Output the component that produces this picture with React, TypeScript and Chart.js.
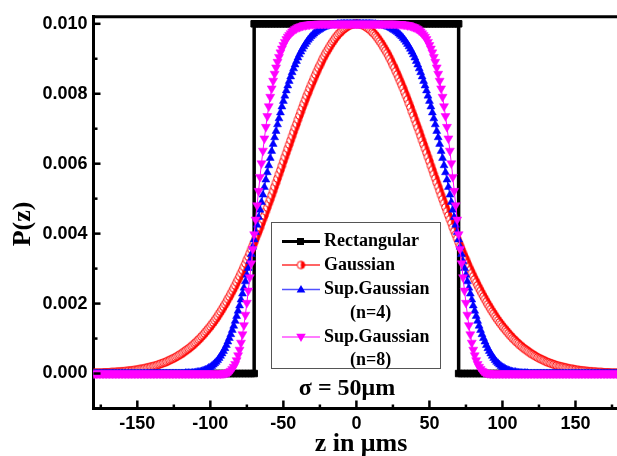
import { useEffect, useRef } from 'react';
import { Chart, registerables } from 'chart.js';

Chart.register(...registerables);

// sampling grids of z (μm)
const zGrid: number[] = Array.from({ length: 361 }, (_, i) => -180 + i);
const zGridRect: number[] = Array.from({ length: 181 }, (_, i) => -180 + 2 * i);
const MILLI = 1e-3; // series below are in units of 1e-3

const X_TICKS = [-150, -100, -50, 0, 50, 100, 150];
const X_MINOR = [-175, -125, -75, -25, 25, 75, 125, 175];
const Y_TICKS = [0, 0.002, 0.004, 0.006, 0.008, 0.01];
const Y_MINOR = [0.001, 0.003, 0.005, 0.007, 0.009];

// on zGridRect
const rectangular = [
  0, 0, 0, 0, 0, 0, 0, 0, 0, 0,
  0, 0, 0, 0, 0, 0, 0, 0, 0, 0,
  0, 0, 0, 0, 0, 0, 0, 0, 0, 0,
  0, 0, 0, 0, 0, 0, 0, 0, 0, 0,
  0, 0, 0, 0, 0, 0, 0, 0, 0, 0,
  0, 0, 0, 0, 0, 10, 10, 10, 10, 10,
  10, 10, 10, 10, 10, 10, 10, 10, 10, 10,
  10, 10, 10, 10, 10, 10, 10, 10, 10, 10,
  10, 10, 10, 10, 10, 10, 10, 10, 10, 10,
  10, 10, 10, 10, 10, 10, 10, 10, 10, 10,
  10, 10, 10, 10, 10, 10, 10, 10, 10, 10,
  10, 10, 10, 10, 10, 10, 10, 10, 10, 10,
  10, 10, 10, 10, 10, 10, 0, 0, 0, 0,
  0, 0, 0, 0, 0, 0, 0, 0, 0, 0,
  0, 0, 0, 0, 0, 0, 0, 0, 0, 0,
  0, 0, 0, 0, 0, 0, 0, 0, 0, 0,
  0, 0, 0, 0, 0, 0, 0, 0, 0, 0,
  0, 0, 0, 0, 0, 0, 0, 0, 0, 0,
  0,
];

// on zGrid (-180 … 180, step 1)
const gaussian = [
  0.02, 0.02, 0.02, 0.02, 0.02, 0.02, 0.02, 0.03, 0.03, 0.03,
  0.03, 0.03, 0.04, 0.04, 0.04, 0.04, 0.05, 0.05, 0.05, 0.06,
  0.06, 0.06, 0.07, 0.07, 0.08, 0.08, 0.09, 0.09, 0.10, 0.10,
  0.11, 0.12, 0.13, 0.13, 0.14, 0.15, 0.16, 0.17, 0.18, 0.19,
  0.20, 0.21, 0.22, 0.23, 0.25, 0.26, 0.28, 0.29, 0.31, 0.32,
  0.34, 0.36, 0.38, 0.40, 0.42, 0.44, 0.46, 0.49, 0.51, 0.54,
  0.56, 0.59, 0.62, 0.65, 0.68, 0.71, 0.74, 0.78, 0.81, 0.85,
  0.89, 0.93, 0.97, 1.01, 1.06, 1.10, 1.15, 1.20, 1.25, 1.30,
  1.35, 1.41, 1.46, 1.52, 1.58, 1.64, 1.71, 1.77, 1.84, 1.91,
  1.98, 2.05, 2.13, 2.20, 2.28, 2.36, 2.44, 2.52, 2.61, 2.69,
  2.78, 2.87, 2.96, 3.05, 3.15, 3.25, 3.34, 3.44, 3.55, 3.65,
  3.75, 3.86, 3.97, 4.07, 4.18, 4.30, 4.41, 4.52, 4.64, 4.75,
  4.87, 4.98, 5.10, 5.22, 5.34, 5.46, 5.58, 5.70, 5.82, 5.94,
  6.07, 6.19, 6.31, 6.43, 6.55, 6.67, 6.79, 6.91, 7.03, 7.14,
  7.26, 7.38, 7.49, 7.61, 7.72, 7.83, 7.94, 8.04, 8.15, 8.25,
  8.35, 8.45, 8.55, 8.64, 8.74, 8.82, 8.91, 9.00, 9.08, 9.16,
  9.23, 9.30, 9.37, 9.44, 9.50, 9.56, 9.62, 9.67, 9.72, 9.76,
  9.80, 9.84, 9.87, 9.90, 9.93, 9.95, 9.97, 9.98, 9.99, 10,
  10,
  10, 9.99, 9.98, 9.97, 9.95, 9.93, 9.90, 9.87, 9.84, 9.80,
  9.76, 9.72, 9.67, 9.62, 9.56, 9.50, 9.44, 9.37, 9.30, 9.23,
  9.16, 9.08, 9.00, 8.91, 8.82, 8.74, 8.64, 8.55, 8.45, 8.35,
  8.25, 8.15, 8.04, 7.94, 7.83, 7.72, 7.61, 7.49, 7.38, 7.26,
  7.14, 7.03, 6.91, 6.79, 6.67, 6.55, 6.43, 6.31, 6.19, 6.07,
  5.94, 5.82, 5.70, 5.58, 5.46, 5.34, 5.22, 5.10, 4.98, 4.87,
  4.75, 4.64, 4.52, 4.41, 4.30, 4.18, 4.07, 3.97, 3.86, 3.75,
  3.65, 3.55, 3.44, 3.34, 3.25, 3.15, 3.05, 2.96, 2.87, 2.78,
  2.69, 2.61, 2.52, 2.44, 2.36, 2.28, 2.20, 2.13, 2.05, 1.98,
  1.91, 1.84, 1.77, 1.71, 1.64, 1.58, 1.52, 1.46, 1.41, 1.35,
  1.30, 1.25, 1.20, 1.15, 1.10, 1.06, 1.01, 0.97, 0.93, 0.89,
  0.85, 0.81, 0.78, 0.74, 0.71, 0.68, 0.65, 0.62, 0.59, 0.56,
  0.54, 0.51, 0.49, 0.46, 0.44, 0.42, 0.40, 0.38, 0.36, 0.34,
  0.32, 0.31, 0.29, 0.28, 0.26, 0.25, 0.23, 0.22, 0.21, 0.20,
  0.19, 0.18, 0.17, 0.16, 0.15, 0.14, 0.13, 0.13, 0.12, 0.11,
  0.10, 0.10, 0.09, 0.09, 0.08, 0.08, 0.07, 0.07, 0.06, 0.06,
  0.06, 0.05, 0.05, 0.05, 0.04, 0.04, 0.04, 0.04, 0.03, 0.03,
  0.03, 0.03, 0.03, 0.02, 0.02, 0.02, 0.02, 0.02, 0.02, 0.02,
];

const superGauss4 = [
  0, 0, 0, 0, 0, 0, 0, 0, 0, 0,
  0, 0, 0, 0, 0, 0, 0, 0, 0, 0,
  0, 0, 0, 0, 0, 0, 0, 0, 0, 0,
  0, 0, 0, 0, 0, 0, 0, 0, 0, 0,
  0, 0, 0, 0, 0, 0, 0, 0, 0, 0,
  0, 0, 0, 0, 0, 0, 0, 0, 0, 0,
  0, 0, 0, 0.01, 0.01, 0.01, 0.01, 0.01, 0.02, 0.02,
  0.03, 0.04, 0.04, 0.05, 0.06, 0.08, 0.09, 0.11, 0.13, 0.16,
  0.18, 0.21, 0.25, 0.29, 0.33, 0.38, 0.44, 0.50, 0.57, 0.64,
  0.72, 0.81, 0.91, 1.01, 1.12, 1.24, 1.36, 1.50, 1.64, 1.79,
  1.94, 2.11, 2.28, 2.45, 2.63, 2.82, 3.01, 3.21, 3.41, 3.62,
  3.83, 4.04, 4.25, 4.47, 4.68, 4.90, 5.11, 5.33, 5.54, 5.75,
  5.95, 6.16, 6.36, 6.56, 6.75, 6.93, 7.12, 7.29, 7.46, 7.63,
  7.79, 7.94, 8.09, 8.23, 8.36, 8.49, 8.61, 8.72, 8.83, 8.93,
  9.03, 9.12, 9.20, 9.28, 9.35, 9.42, 9.48, 9.54, 9.59, 9.64,
  9.68, 9.72, 9.76, 9.79, 9.82, 9.84, 9.87, 9.89, 9.91, 9.92,
  9.94, 9.95, 9.96, 9.97, 9.97, 9.98, 9.98, 9.99, 9.99, 9.99,
  10, 10, 10, 10, 10, 10, 10, 10, 10, 10,
  10,
  10, 10, 10, 10, 10, 10, 10, 10, 10, 10,
  9.99, 9.99, 9.99, 9.98, 9.98, 9.97, 9.97, 9.96, 9.95, 9.94,
  9.92, 9.91, 9.89, 9.87, 9.84, 9.82, 9.79, 9.76, 9.72, 9.68,
  9.64, 9.59, 9.54, 9.48, 9.42, 9.35, 9.28, 9.20, 9.12, 9.03,
  8.93, 8.83, 8.72, 8.61, 8.49, 8.36, 8.23, 8.09, 7.94, 7.79,
  7.63, 7.46, 7.29, 7.12, 6.93, 6.75, 6.56, 6.36, 6.16, 5.95,
  5.75, 5.54, 5.33, 5.11, 4.90, 4.68, 4.47, 4.25, 4.04, 3.83,
  3.62, 3.41, 3.21, 3.01, 2.82, 2.63, 2.45, 2.28, 2.11, 1.94,
  1.79, 1.64, 1.50, 1.36, 1.24, 1.12, 1.01, 0.91, 0.81, 0.72,
  0.64, 0.57, 0.50, 0.44, 0.38, 0.33, 0.29, 0.25, 0.21, 0.18,
  0.16, 0.13, 0.11, 0.09, 0.08, 0.06, 0.05, 0.04, 0.04, 0.03,
  0.02, 0.02, 0.01, 0.01, 0.01, 0.01, 0.01, 0, 0, 0,
  0, 0, 0, 0, 0, 0, 0, 0, 0, 0,
  0, 0, 0, 0, 0, 0, 0, 0, 0, 0,
  0, 0, 0, 0, 0, 0, 0, 0, 0, 0,
  0, 0, 0, 0, 0, 0, 0, 0, 0, 0,
  0, 0, 0, 0, 0, 0, 0, 0, 0, 0,
  0, 0, 0, 0, 0, 0, 0, 0, 0, 0,
];

const superGauss8 = [
  0, 0, 0, 0, 0, 0, 0, 0, 0, 0,
  0, 0, 0, 0, 0, 0, 0, 0, 0, 0,
  0, 0, 0, 0, 0, 0, 0, 0, 0, 0,
  0, 0, 0, 0, 0, 0, 0, 0, 0, 0,
  0, 0, 0, 0, 0, 0, 0, 0, 0, 0,
  0, 0, 0, 0, 0, 0, 0, 0, 0, 0,
  0, 0, 0, 0, 0, 0, 0, 0, 0, 0,
  0, 0, 0, 0, 0, 0, 0, 0, 0, 0,
  0, 0, 0, 0, 0, 0, 0, 0, 0, 0.01,
  0.01, 0.02, 0.03, 0.05, 0.08, 0.13, 0.19, 0.27, 0.38, 0.52,
  0.68, 0.88, 1.12, 1.38, 1.68, 2.02, 2.37, 2.75, 3.15, 3.56,
  3.98, 4.40, 4.81, 5.22, 5.62, 6.01, 6.37, 6.72, 7.05, 7.36,
  7.64, 7.91, 8.15, 8.37, 8.57, 8.75, 8.91, 9.05, 9.18, 9.29,
  9.39, 9.48, 9.56, 9.63, 9.68, 9.73, 9.78, 9.81, 9.85, 9.87,
  9.90, 9.91, 9.93, 9.94, 9.96, 9.96, 9.97, 9.98, 9.98, 9.99,
  9.99, 9.99, 9.99, 10, 10, 10, 10, 10, 10, 10,
  10, 10, 10, 10, 10, 10, 10, 10, 10, 10,
  10, 10, 10, 10, 10, 10, 10, 10, 10, 10,
  10,
  10, 10, 10, 10, 10, 10, 10, 10, 10, 10,
  10, 10, 10, 10, 10, 10, 10, 10, 10, 10,
  10, 10, 10, 10, 10, 10, 10, 9.99, 9.99, 9.99,
  9.99, 9.98, 9.98, 9.97, 9.96, 9.96, 9.94, 9.93, 9.91, 9.90,
  9.87, 9.85, 9.81, 9.78, 9.73, 9.68, 9.63, 9.56, 9.48, 9.39,
  9.29, 9.18, 9.05, 8.91, 8.75, 8.57, 8.37, 8.15, 7.91, 7.64,
  7.36, 7.05, 6.72, 6.37, 6.01, 5.62, 5.22, 4.81, 4.40, 3.98,
  3.56, 3.15, 2.75, 2.37, 2.02, 1.68, 1.38, 1.12, 0.88, 0.68,
  0.52, 0.38, 0.27, 0.19, 0.13, 0.08, 0.05, 0.03, 0.02, 0.01,
  0.01, 0, 0, 0, 0, 0, 0, 0, 0, 0,
  0, 0, 0, 0, 0, 0, 0, 0, 0, 0,
  0, 0, 0, 0, 0, 0, 0, 0, 0, 0,
  0, 0, 0, 0, 0, 0, 0, 0, 0, 0,
  0, 0, 0, 0, 0, 0, 0, 0, 0, 0,
  0, 0, 0, 0, 0, 0, 0, 0, 0, 0,
  0, 0, 0, 0, 0, 0, 0, 0, 0, 0,
  0, 0, 0, 0, 0, 0, 0, 0, 0, 0,
  0, 0, 0, 0, 0, 0, 0, 0, 0, 0,
];

const SERIES_NAMES = ['Rectangular', 'Gaussian', 'Sup.Gaussian', 'Sup.Gaussian'];
const SERIES_NOTES = ['', '', '(n=4)', '(n=8)'];
const SIGMA_LABEL = 'σ = 50μm';
const X_TITLE = 'z in μms';
const Y_TITLE = 'P(z)';

const RED = '#ff0000';
const BLUE = '#0000ff';
const MAGENTA = '#ff00ff';
const LEGEND_LINE = ['#000000', '#ff3030', '#5050ff', '#ff50ff'];

const SERIF = "'Liberation Serif', 'Times New Roman', serif";
const SANS = "'Liberation Sans', Arial, sans-serif";

function toPoints(values: number[]) {
  return zGrid.map((z, i) => ({ x: z, y: values[i] * MILLI }));
}

function rectPoints() {
  const pts: { x: number; y: number }[] = [];
  zGridRect.forEach((z, i) => {
    if (i > 0 && rectangular[i] !== rectangular[i - 1]) {
      if (rectangular[i] > rectangular[i - 1]) pts.push({ x: z, y: rectangular[i - 1] * MILLI });
      else pts.push({ x: zGridRect[i - 1], y: rectangular[i] * MILLI });
    }
    pts.push({ x: z, y: rectangular[i] * MILLI });
  });
  return pts;
}

function halfCircle(color: string, r: number) {
  const size = Math.ceil(r * 2 + 3);
  const c = document.createElement('canvas');
  c.width = size;
  c.height = size;
  const g = c.getContext('2d')!;
  const m = size / 2;
  g.beginPath();
  g.arc(m, m, r, Math.PI / 2, (3 * Math.PI) / 2);
  g.closePath();
  g.fillStyle = '#ffffff';
  g.fill();
  g.beginPath();
  g.arc(m, m, r, -Math.PI / 2, Math.PI / 2);
  g.closePath();
  g.fillStyle = color;
  g.fill();
  g.beginPath();
  g.arc(m, m, r, 0, Math.PI * 2);
  g.strokeStyle = color;
  g.lineWidth = 1;
  g.stroke();
  return c;
}

function triangle(ctx: CanvasRenderingContext2D, x: number, y: number, r: number, down: boolean, color: string) {
  const s = down ? -1 : 1;
  ctx.beginPath();
  ctx.moveTo(x, y - s * r);
  ctx.lineTo(x + r * 0.866, y + s * r * 0.5);
  ctx.lineTo(x - r * 0.866, y + s * r * 0.5);
  ctx.closePath();
  ctx.fillStyle = color;
  ctx.fill();
}

export default function App() {
  const ref = useRef<HTMLCanvasElement>(null);

  useEffect(() => {
    const half = halfCircle(RED, 3.8);

    const decor = {
      id: 'decor',
      afterDatasetsDraw(chart: any) {
        const { ctx, chartArea: a, scales } = chart;
        const x = scales.x;
        const y = scales.y;
        ctx.save();
        ctx.strokeStyle = '#000';
        ctx.lineWidth = 3;
        ctx.beginPath();
        ctx.moveTo(a.left - 1.5, a.top);
        ctx.lineTo(a.right, a.top);
        ctx.stroke();
        ctx.lineWidth = 2.5;
        const seg = (x1: number, y1: number, x2: number, y2: number) => {
          ctx.beginPath();
          ctx.moveTo(x1, y1);
          ctx.lineTo(x2, y2);
          ctx.stroke();
        };
        X_TICKS.forEach((v) => { const p = x.getPixelForValue(v); seg(p, a.bottom, p, a.bottom - 8); });
        X_MINOR.forEach((v) => { const p = x.getPixelForValue(v); seg(p, a.bottom, p, a.bottom - 4); });
        Y_TICKS.forEach((v) => { const p = y.getPixelForValue(v); seg(a.left, p, a.left + 7, p); });
        Y_MINOR.forEach((v) => { const p = y.getPixelForValue(v); seg(a.left, p, a.left + 4, p); });

        ctx.fillStyle = '#000';
        ctx.font = `bold 26px ${SERIF}`;
        ctx.textAlign = 'center';
        ctx.textBaseline = 'alphabetic';
        ctx.fillText(X_TITLE, 361, 451);
        ctx.save();
        ctx.translate(30, 224);
        ctx.rotate(-Math.PI / 2);
        ctx.fillText(Y_TITLE, 0, 0);
        ctx.restore();
        ctx.font = `bold 24px ${SERIF}`;
        ctx.fillText(SIGMA_LABEL, 347, 395);

        const L = { x: 271.5, y: 222.5, w: 169, h: 146 };
        ctx.fillStyle = '#fff';
        ctx.fillRect(L.x, L.y, L.w, L.h);
        ctx.strokeStyle = '#555';
        ctx.lineWidth = 1;
        ctx.strokeRect(L.x, L.y, L.w, L.h);
        const rows = [
          { ds: 0, y: 241.5 },
          { ds: 1, y: 265 },
          { ds: 2, y: 289.5 },
          { ds: 3, y: 337 },
        ];
        const notes = [
          { ds: 2, y: 313 },
          { ds: 3, y: 360 },
        ];
        ctx.font = `bold 18px ${SERIF}`;
        ctx.textAlign = 'left';
        ctx.textBaseline = 'middle';
        rows.forEach((r) => {
          ctx.strokeStyle = LEGEND_LINE[r.ds];
          ctx.lineWidth = r.ds === 0 ? 3 : 1.3;
          seg(282, r.y, 320, r.y);
          if (r.ds === 0) {
            ctx.fillStyle = '#000';
            ctx.fillRect(297, r.y - 3.5, 7, 7);
          } else if (r.ds === 1) {
            ctx.drawImage(half, 301 - half.width / 2, r.y - half.height / 2);
          } else if (r.ds === 2) {
            triangle(ctx, 301, r.y + 0.5, 5, false, BLUE);
          } else {
            triangle(ctx, 301, r.y - 0.5, 5.5, true, MAGENTA);
          }
          ctx.fillStyle = '#000';
          ctx.fillText(SERIES_NAMES[r.ds], 324, r.y);
        });
        notes.forEach((n) => {
          ctx.fillStyle = '#000';
          ctx.fillText(SERIES_NOTES[n.ds], 350, n.y);
        });
        ctx.restore();
      },
    };

    const chart = new Chart(ref.current!, {
      type: 'line',
      data: {
        datasets: [
          {
            label: SERIES_NAMES[0],
            data: rectPoints(),
            borderColor: '#000',
            backgroundColor: '#000',
            borderWidth: 3.5,
            pointStyle: 'rect',
            pointRadius: 4.6,
            pointBorderWidth: 1,
            pointBorderColor: '#000',
            pointBackgroundColor: '#000',
            order: 3,
          },
          {
            label: SERIES_NAMES[1],
            data: toPoints(gaussian),
            borderColor: RED,
            backgroundColor: RED,
            borderWidth: 1.2,
            pointStyle: half,
            pointRadius: 4,
            order: 2,
          },
          {
            label: SERIES_NAMES[2] + ' ' + SERIES_NOTES[2],
            data: toPoints(superGauss4),
            borderColor: BLUE,
            backgroundColor: BLUE,
            borderWidth: 1,
            pointStyle: 'triangle',
            pointRadius: 4.6,
            pointBorderWidth: 0.5,
            pointBorderColor: BLUE,
            pointBackgroundColor: BLUE,
            order: 1,
          },
          {
            label: SERIES_NAMES[3] + ' ' + SERIES_NOTES[3],
            data: toPoints(superGauss8),
            borderColor: MAGENTA,
            backgroundColor: MAGENTA,
            borderWidth: 1,
            pointStyle: 'triangle',
            pointRotation: 180,
            pointRadius: 5.2,
            pointBorderWidth: 0.5,
            pointBorderColor: MAGENTA,
            pointBackgroundColor: MAGENTA,
            order: 0,
          },
        ] as any,
      },
      options: {
        animation: false,
        responsive: false,
        devicePixelRatio: 1,
        layout: { padding: { top: 14.5, right: 4, left: 0, bottom: 0 } },
        plugins: { legend: { display: false }, tooltip: { enabled: false } },
        elements: { line: { tension: 0 } },
        scales: {
          x: {
            type: 'linear',
            min: -180,
            max: 180,
            grid: { display: false, drawTicks: false },
            border: { display: true, width: 3, color: '#000' },
            ticks: {
              color: '#000',
              padding: 5,
              font: { family: SANS, size: 18, weight: 'bold' },
            },
            afterBuildTicks: (s: any) => { s.ticks = X_TICKS.map((v) => ({ value: v })); },
            afterFit: (s: any) => { s.height = 47.5; },
          },
          y: {
            type: 'linear',
            min: -0.001,
            max: 0.0102,
            grid: { display: false, drawTicks: false },
            border: { display: true, width: 3, color: '#000' },
            ticks: {
              color: '#000',
              padding: 6,
              font: { family: SANS, size: 18, weight: 'bold' },
              callback: (v: any) => Number(v).toFixed(3),
            },
            afterBuildTicks: (s: any) => { s.ticks = Y_TICKS.map((v) => ({ value: v })); },
            afterFit: (s: any) => { s.width = 93.5; },
          },
        },
      } as any,
      plugins: [decor],
    });
    return () => chart.destroy();
  }, []);

  return (
    <div style={{ position: 'fixed', left: 0, top: 0, width: 617, height: 456, overflow: 'hidden', background: '#fff' }}>
      <canvas ref={ref} width={625} height={456} style={{ display: 'block' }} />
    </div>
  );
}
